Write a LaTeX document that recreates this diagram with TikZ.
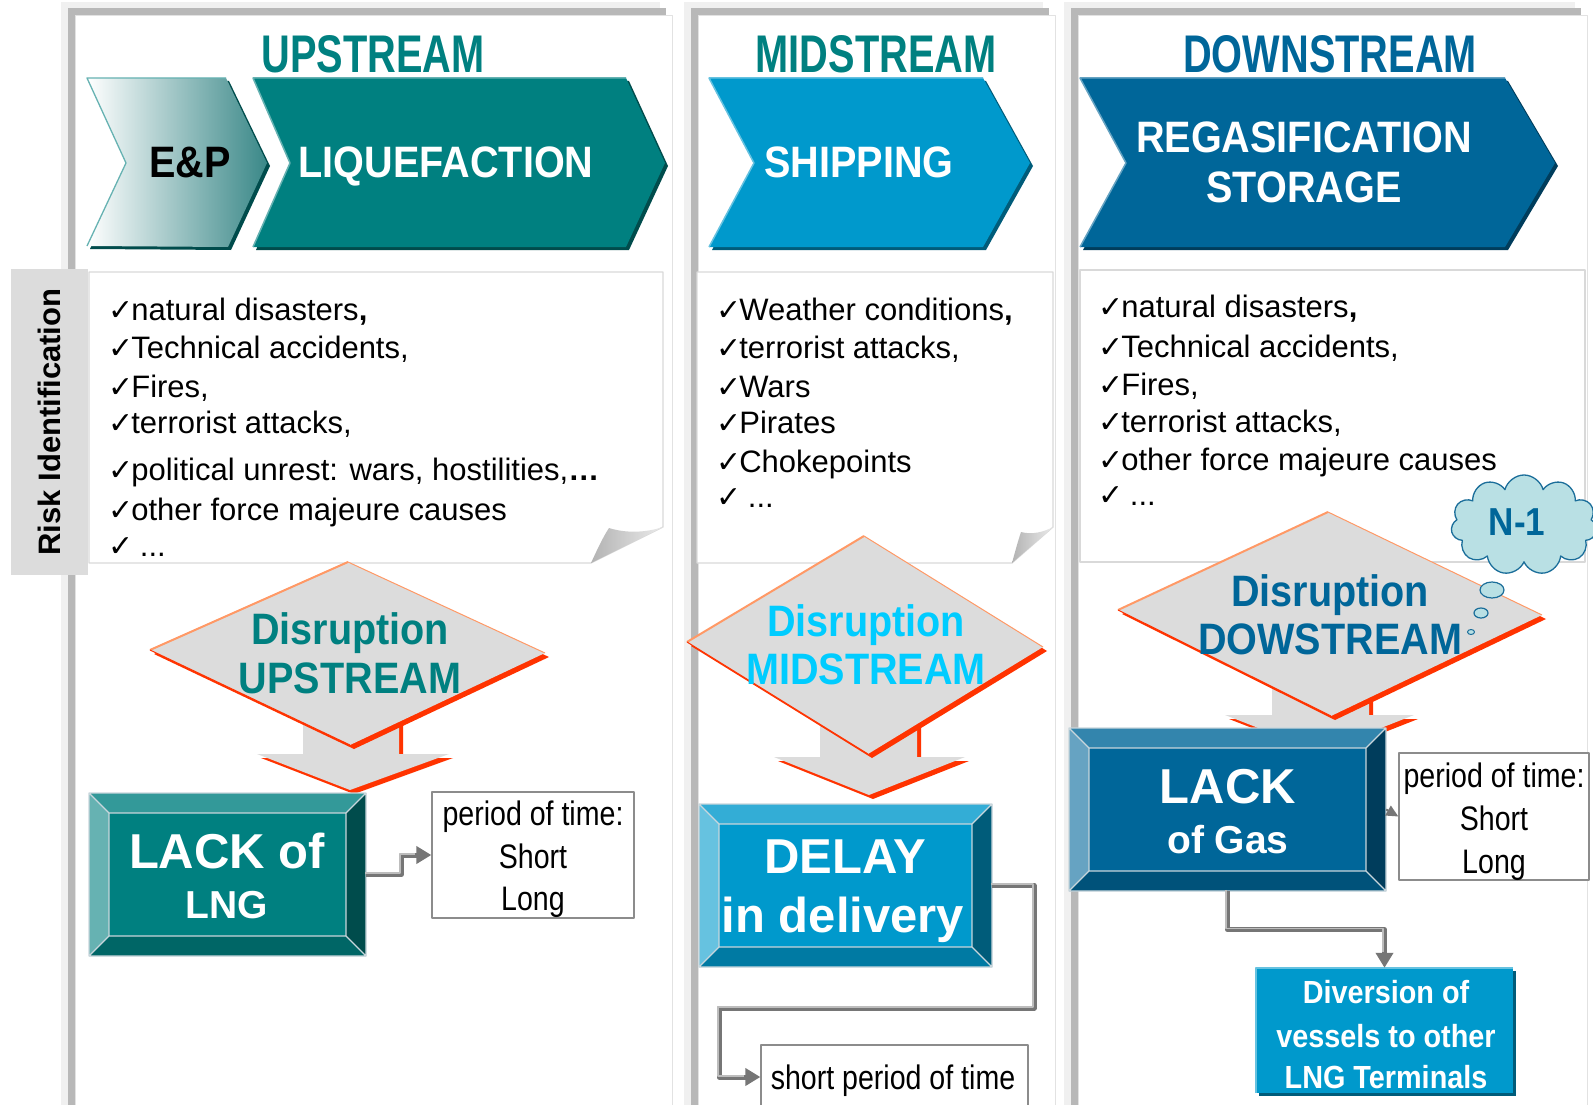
\documentclass[tikz,border=0pt]{standalone}
\usepackage{fontspec}
\setmainfont{Liberation Sans}
\newfontfamily\condH[FakeStretch=0.75]{Liberation Sans}
\newfontfamily\condB[FakeStretch=0.9]{Liberation Sans}
\newfontfamily\condR[FakeStretch=0.84]{Liberation Sans}
\newfontfamily\dvs{DejaVu Sans}
\usetikzlibrary{shapes.symbols,arrows.meta,calc}
\newcommand\setfs[1]{\fontsize{#1}{#1}\selectfont}
\newcommand\ck{{\dvs\bfseries\setfs{30}✓\kern-2pt}}

% palette
\definecolor{teal0}{HTML}{008080}
\definecolor{tealL}{HTML}{66B2B2}
\definecolor{tealT}{HTML}{339999}
\definecolor{tealR}{HTML}{004C4C}
\definecolor{tealB}{HTML}{006666}
\definecolor{tealE}{HTML}{3A8888}
\definecolor{cyan0}{HTML}{0099CC}
\definecolor{cyanL}{HTML}{66C2E0}
\definecolor{cyanT}{HTML}{33ADD6}
\definecolor{cyanR}{HTML}{005C7A}
\definecolor{cyanB}{HTML}{007AA3}
\definecolor{blue0}{HTML}{006699}
\definecolor{blueL}{HTML}{66A3C2}
\definecolor{blueT}{HTML}{3385AD}
\definecolor{blueR}{HTML}{003D5C}
\definecolor{blueB}{HTML}{00527A}
\definecolor{midtxt}{HTML}{00CCFF}
\definecolor{dgray}{HTML}{DCDCDC}
\definecolor{redsh}{HTML}{FF3300}
\definecolor{orng}{HTML}{FF9966}
\definecolor{panL}{HTML}{F0F0F0}
\definecolor{panD}{HTML}{B8B8B8}
\definecolor{panE}{HTML}{E2E2E2}
\definecolor{boxgray}{HTML}{D9D9D9}
\definecolor{perframe}{HTML}{8C8C8C}
\definecolor{pipeD}{HTML}{767676}
\definecolor{pipeL}{HTML}{BDBDBD}
\definecolor{bevedge}{HTML}{C9D6DC}
\definecolor{cloudc}{HTML}{B9E0E4}
\definecolor{cloudb}{HTML}{1B6E9A}

% bevelled box: x1 y1 x2 y2 colour-prefix
\newcommand\bevel[5]{%
  \fill[#5T] (#1,#2) -- (#3,#2) -- (#3-20,#2+20) -- (#1+20,#2+20) -- cycle;
  \fill[#5L] (#1,#2) -- (#1+20,#2+20) -- (#1+20,#4-20) -- (#1,#4) -- cycle;
  \fill[#5R] (#3,#2) -- (#3,#4) -- (#3-20,#4-20) -- (#3-20,#2+20) -- cycle;
  \fill[#5B] (#1,#4) -- (#1+20,#4-20) -- (#3-20,#4-20) -- (#3,#4) -- cycle;
  \fill[#50] (#1+20,#2+20) rectangle (#3-20,#4-20);
  \draw[bevedge, line width=1.2] (#1,#2) rectangle (#3,#4)
     (#1+20,#2+20) rectangle (#3-20,#4-20)
     (#1,#2) -- (#1+20,#2+20) (#3,#2) -- (#3-20,#2+20)
     (#1,#4) -- (#1+20,#4-20) (#3,#4) -- (#3-20,#4-20);
}

\begin{document}
\begin{tikzpicture}[x=1pt,y=-1pt,line join=round,
  hd/.style={anchor=base, font=\condH\bfseries\setfs{53}},
  chv/.style={anchor=base, font=\condB\bfseries\setfs{44}},
  lst/.style={anchor=base west, inner sep=0, font=\setfs{31}},
  dis/.style={anchor=base, font=\condB\bfseries\setfs{44}},
  big/.style={anchor=base, text=white, font=\bfseries\setfs{49}},
  mid/.style={anchor=base, text=white, font=\bfseries\setfs{39}},
  divt/.style={anchor=base, text=white, font=\condB\bfseries\setfs{32}},
  per/.style={anchor=base, font=\condR\setfs{34}},
  pbox/.style={draw=perframe, line width=1.3, fill=white, inner sep=0},
  pipe/.style={draw=pipeD, line width=5, -{Triangle[length=15pt,width=17pt]}},
  pipehi/.style={draw=pipeL, line width=1.8, transform canvas={xshift=-1.3pt,yshift=1.3pt}},
  shadowred/.style={fill=redsh, shift={(4,4)}},
]
\useasboundingbox (0,0) rectangle (1593,1105);
\fill[white] (0,0) rectangle (1593,1105);

% ---- column panels ----
\foreach \l/\r in {61/660, 684/1043, 1064/1575}{
  \fill[panL] (\l,2) rectangle (\r,1112);
  \fill[panD] (\l+7,8) rectangle (\r+6,1112);
  \filldraw[fill=white, draw=panE] (\l+14,15) rectangle (\r+12,1112);
}

% ---- side tab ----
\node[fill=dgray, rotate=90, minimum width=306, minimum height=77, inner sep=0,
      font=\bfseries\setfs{31}] (risk) at (49.5,422) {Risk Identification};

% ---- headings ----
\node[hd, text=teal0] (hup) at (373,73) {UPSTREAM};
\node[hd, text=teal0] (hmid) at (876,73) {MIDSTREAM};
\node[hd, text=blue0] (hdown) at (1330,73) {DOWNSTREAM};

% ---- chevrons ----
\fill[tealR, shift={(3,3)}] (87,78) -- (226,78) -- (267,163) -- (228,247) -- (87,246) -- (126,163) -- cycle;
\shade[left color=white, right color=tealE] (87,78) -- (226,78) -- (267,163) -- (228,247) -- (87,246) -- (126,163) -- cycle;
\draw[tealL, line width=1.3] (226,78) -- (87,78) -- (126,163) -- (87,246);

\fill[tealR, shift={(3,3)}] (253,78) -- (626,78) -- (665,163) -- (626,247) -- (253,247) -- (290,163) -- cycle;
\fill[teal0] (253,78) -- (626,78) -- (665,163) -- (626,247) -- (253,247) -- (290,163) -- cycle;
\draw[tealL, line width=1.5] (626,78) -- (253,78) -- (290,163) -- (253,247);

\fill[cyanR, shift={(3,3)}] (709,78) -- (983,78) -- (1030,163) -- (983,247) -- (709,247) -- (754,163) -- cycle;
\fill[cyan0] (709,78) -- (983,78) -- (1030,163) -- (983,247) -- (709,247) -- (754,163) -- cycle;
\draw[cyanL, line width=1.5] (983,78) -- (709,78) -- (754,163) -- (709,247);

\fill[blueR, shift={(3,3)}] (1080,78) -- (1505,78) -- (1555,163) -- (1505,247) -- (1080,247) -- (1126,163) -- cycle;
\fill[blue0] (1080,78) -- (1505,78) -- (1555,163) -- (1505,247) -- (1080,247) -- (1126,163) -- cycle;
\draw[blueL, line width=1.5] (1505,78) -- (1080,78) -- (1126,163) -- (1080,247);

\node[chv, text=black] (ep) at (190,178) {E\&P};
\node[chv, text=white] (liq) at (446,178) {LIQUEFACTION};
\node[chv, text=white] (ship) at (859,177) {SHIPPING};
\node[chv, text=white] (regas) at (1304,153) {REGASIFICATION};
\node[chv, text=white] (stor) at (1304,202) {STORAGE};

% ---- risk lists ----
\filldraw[fill=white, draw=boxgray, line width=1.2] (89,272) -- (663,272) -- (663,527) -- (591,563) -- (89,563) -- cycle;
\shade[left color=black!30, right color=black!8] (591,563) .. controls (597,550) and (603,537) .. (609,528)
   .. controls (628,534) and (648,532) .. (663,527) -- cycle;
\filldraw[fill=white, draw=boxgray, line width=1.2] (697,272) -- (1053,272) -- (1053,527) -- (1012,563) -- (697,563) -- cycle;
\shade[left color=black!30, right color=black!8] (1012,563) .. controls (1015,552) and (1018,541) .. (1021,532)
   .. controls (1032,535) and (1044,532) .. (1053,527) -- cycle;
\filldraw[fill=white, draw=boxgray, line width=1.2] (1080,270) rectangle (1585,562);

\node[lst] (u1) at (108,320) {\ck natural disasters{\bfseries,}};
\node[lst] (u2) at (108,358) {\ck Technical accidents,};
\node[lst] (u3) at (108,397) {\ck Fires,};
\node[lst] (u4) at (108,433) {\ck terrorist attacks,};
\node[lst] (u5) at (108,480) {\ck political unrest: wars, hostilities,{\bfseries …}};
\node[lst] (u6) at (108,520) {\ck other force majeure causes};
\node[lst] (u7) at (108,556) {\ck\ ...};

\node[lst] (m1) at (716,320) {\ck Weather conditions{\bfseries,}};
\node[lst] (m2) at (716,358) {\ck terrorist attacks,};
\node[lst] (m3) at (716,397) {\ck Wars};
\node[lst] (m4) at (716,433) {\ck Pirates};
\node[lst] (m5) at (716,472) {\ck Chokepoints};
\node[lst] (m6) at (716,507) {\ck\ ...};

\node[lst] (g1) at (1098,317) {\ck natural disasters{\bfseries,}};
\node[lst] (g2) at (1098,357) {\ck Technical accidents,};
\node[lst] (g3) at (1098,395) {\ck Fires,};
\node[lst] (g4) at (1098,432) {\ck terrorist attacks,};
\node[lst] (g5) at (1098,470) {\ck other force majeure causes};
\node[lst] (g6) at (1098,505) {\ck\ ...};

% ---- block arrows below the decision diamonds ----
\fill[shadowred] (303,690) -- (399,690) -- (399,754) -- (449,754) -- (350,790) -- (257,754) -- (303,754) -- cycle;
\fill[dgray] (303,690) -- (399,690) -- (399,754) -- (449,754) -- (350,790) -- (257,754) -- (303,754) -- cycle;
\fill[shadowred] (820,690) -- (917,690) -- (917,757) -- (965,757) -- (869,795) -- (774,757) -- (820,757) -- cycle;
\fill[dgray] (820,690) -- (917,690) -- (917,757) -- (965,757) -- (869,795) -- (774,757) -- (820,757) -- cycle;
\fill[shadowred] (1272,660) -- (1369,660) -- (1369,715) -- (1414,715) -- (1320,752) -- (1225,715) -- (1272,715) -- cycle;
\fill[dgray] (1272,660) -- (1369,660) -- (1369,715) -- (1414,715) -- (1320,752) -- (1225,715) -- (1272,715) -- cycle;

% ---- decision diamonds ----
\fill[shadowred] (348,562) -- (545,653) -- (350,745) -- (150,650) -- cycle;
\fill[dgray] (348,562) -- (545,653) -- (350,745) -- (150,650) -- cycle;
\draw[orng, line width=2] (150,650) -- (348,562);
\draw[orng, line width=1] (348,562) -- (545,653);
\draw[redsh, line width=1] (150,650) -- (350,745);

\fill[shadowred] (864,536) -- (1043,647) -- (868,754) -- (687,642) -- cycle;
\fill[dgray] (864,536) -- (1043,647) -- (868,754) -- (687,642) -- cycle;
\draw[orng, line width=2] (687,642) -- (864,536);
\draw[orng, line width=1] (864,536) -- (1043,647);
\draw[redsh, line width=1] (687,642) -- (868,754);

\fill[shadowred] (1328,512) -- (1542,615) -- (1331,716) -- (1118,610) -- cycle;
\fill[dgray] (1328,512) -- (1542,615) -- (1331,716) -- (1118,610) -- cycle;
\draw[orng, line width=2] (1118,610) -- (1328,512);
\draw[orng, line width=1] (1328,512) -- (1542,615);
\draw[redsh, line width=1] (1118,610) -- (1331,716);

\node[dis, text=teal0] (d1a) at (350,644) {Disruption};
\node[dis, text=teal0] (d1b) at (350,693) {UPSTREAM};
\node[dis, text=midtxt] (d2a) at (866,636) {Disruption};
\node[dis, text=midtxt] (d2b) at (866,684) {MIDSTREAM};
\node[dis, text=blue0] (d3a) at (1330,606) {Disruption};
\node[dis, text=blue0] (d3b) at (1330,654) {DOWSTREAM};

% ---- consequence boxes ----
\bevel{89}{793}{366}{956}{teal}
\node[inner sep=0, minimum width=277, minimum height=163] (lng) at (227.5,874.5) {};
\node[big] (lng1) at (227,868) {LACK of};
\node[big, font=\bfseries\setfs{39}] (lng2) at (227,918) {LNG};

\bevel{699}{804}{992}{967}{cyan}
\node[inner sep=0, minimum width=293, minimum height=163] (delay) at (845.5,885.5) {};
\node[big] (del1) at (845,873) {DELAY};
\node[big] (del2) at (843,932) {in delivery};

\bevel{1069}{728}{1386}{891}{blue}
\node[inner sep=0, minimum width=317, minimum height=163] (gas) at (1227.5,809.5) {};
\node[big] (gas1) at (1228,803) {LACK};
\node[mid] (gas2) at (1228,853) {of Gas};

% ---- period boxes ----
\node[pbox, minimum width=202, minimum height=126] (per1) at (533,855) {};
\node[per] (p1a) at (533,825) {period of time:};
\node[per] (p1b) at (533,868) {Short};
\node[per] (p1c) at (533,910) {Long};

\node[pbox, minimum width=190, minimum height=127] (per3) at (1494,816.5) {};
\node[per] (p3a) at (1494,787) {period of time:};
\node[per] (p3b) at (1494,830) {Short};
\node[per] (p3c) at (1494,873) {Long};

\node[pbox, minimum width=267, minimum height=64] (sp) at (894.5,1077) {};
\node[per] (spt) at (893,1089) {short period of time};

% ---- diversion box ----
\fill[cyanR, shift={(3,3)}] (1256,968) rectangle (1513,1093);
\node[fill=cyan0, inner sep=0, minimum width=257, minimum height=125] (div) at (1384.5,1030.5) {};
\draw[cyanL, line width=1.5] (1256,1093) -- (1256,968) -- (1513,968);
\node[divt] (dv1) at (1386,1003) {Diversion of};
\node[divt] (dv2) at (1386,1047) {vessels to other};
\node[divt] (dv3) at (1386,1088) {LNG Terminals};

% ---- connectors ----
\draw[pipe] (lng.east) -- ++(35,0) |- (per1.west);
\draw[pipehi, shorten >=15pt] (lng.east) -- ++(35,0) |- (per1.west);

\coordinate (dbend) at (1034,1008);
\coordinate (dturn) at (719,1008);
\draw[pipe] (delay.east) -| (dbend) -- (dturn) |- (sp.west);
\draw[pipehi, shorten >=15pt] (delay.east) -| (dbend) -- (dturn) |- (sp.west);

\draw[pipe] (gas.south) |- ($(div.north)+(0,-38)$) -- (div.north);
\draw[pipehi, shorten >=15pt] (gas.south) |- ($(div.north)+(0,-38)$) -- (div.north);

\draw[draw=pipeD, line width=2, -{Triangle[length=12pt,width=11pt]}] (gas.east) -- (per3.west);

% ---- N-1 thought cloud ----
\node[cloud, cloud puffs=11, aspect=1.45, draw=cloudb, fill=cloudc, line width=1.3,
      minimum width=146, minimum height=100, inner sep=0] (cloud) at (1524,525) {};
\node[anchor=base, text=blue0, font=\condB\bfseries\setfs{39}] (n1) at (1517,535) {N-1};
\filldraw[fill=cloudc, draw=cloudb, line width=1.2] (1492,590) ellipse [x radius=12pt, y radius=8pt];
\filldraw[fill=cloudc, draw=cloudb, line width=1.2] (1481,613) ellipse [x radius=7pt, y radius=5pt];
\filldraw[fill=cloudc, draw=cloudb, line width=1] (1471,632) ellipse [x radius=3.5pt, y radius=2.5pt];

\end{tikzpicture}
\end{document}
